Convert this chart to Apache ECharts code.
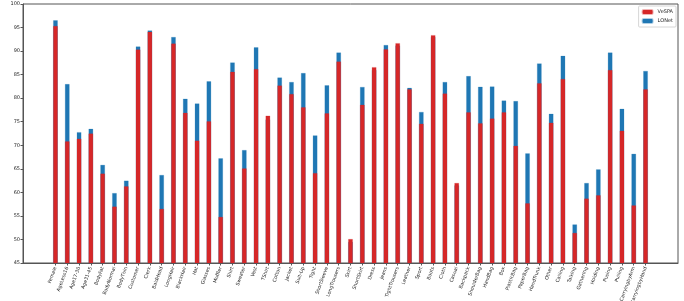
<!DOCTYPE html>
<html>
<head>
<meta charset="utf-8">
<script src="https://cdn.jsdelivr.net/npm/echarts@6/dist/echarts.min.js"></script>
<style>html,body{margin:0;padding:0;background:#fff}#c{width:684px;height:301px}</style>
</head>
<body>
<div id="c"></div>
<script>
const categories = ["Female","AgeLess16","Age17-30","Age31-45","BodyFat","BodyNormal","BodyThin","Customer","Clerk","BaldHead","LongHair","BlackHair","Hat","Glasses","Muffler","Shirt","Sweater","Vest","TShirt","Cotton","Jacket","Suit-Up","Tight","ShortSleeve","LongTrousers","Skirt","ShortSkirt","Dress","Jeans","TightTrousers","Leather","Sport","Boots","Cloth","Casual","Backpack","ShoulderBag","HandBag","Box","PlasticBag","PaperBag","HandTrunk","Other","Calling","Talking","Gathering","Holding","Pusing","Pulling","CarryingbyArm","CarryingbyHand"];
const vespa = [95.35,70.85,71.4,72.5,64.0,57.0,61.3,90.35,94.1,56.5,91.6,76.9,71.0,75.1,54.8,85.6,65.1,86.2,76.3,82.7,80.9,78.1,64.1,76.8,87.8,50.1,78.6,86.6,90.4,91.7,81.9,74.6,93.4,81.0,62.0,77.0,74.7,75.7,77.0,69.9,57.7,83.2,74.8,84.1,51.4,58.7,59.4,86.0,73.1,57.25,81.9];
const lonet = [96.55,83.0,72.8,73.5,65.85,59.86,62.5,91.0,94.4,63.7,93.0,79.9,78.9,83.6,67.25,87.6,69.0,90.8,75.5,84.4,83.45,85.35,72.1,82.75,89.7,49.5,82.4,86.0,91.3,91.2,82.2,77.1,93.0,83.45,61.5,84.7,82.45,82.5,79.5,79.4,68.3,87.4,76.7,89.0,53.2,62.0,64.9,89.7,77.75,68.2,85.8];
const yTicks = [45,50,55,60,65,70,75,80,85,90,95,100];

const idx = categories.map((_, i) => i);
const chart = echarts.init(document.getElementById('c'));
chart.setOption({
  animation: false,
  grid: {left: 23, right: 6, top: 4, bottom: 38, show: true, borderColor: '#555', borderWidth: 1,
    outerBoundsMode: 'none', containLabel: false},
  legend: {
    data: ['VeSPA', 'LONet'], orient: 'vertical', right: 8, top: 6,
    itemWidth: 10, itemHeight: 4, itemGap: 3,
    textStyle: {fontSize: 5, color: '#222', fontFamily: 'DejaVu Sans'},
    borderColor: '#ccc', borderWidth: 0.8, borderRadius: 1, padding: [3, 3, 3, 3], backgroundColor: '#fff'
  },
  xAxis: {
    type: 'value', min: -2.75, max: 52.75,
    splitLine: {show: false},
    axisLine: {show: true, onZero: false, lineStyle: {color: '#555'}},
    axisTick: {show: true, customValues: idx, length: 2.5, lineStyle: {color: '#555'}},
    axisLabel: {customValues: idx, rotate: 70, fontSize: 4.8, color: '#222', margin: 4,
      fontFamily: 'DejaVu Sans', formatter: v => categories[Math.round(v)] || ''}
  },
  yAxis: {
    type: 'value', min: 45, max: 100, interval: 5,
    name: 'Accuracy (%)', nameLocation: 'middle', nameGap: 14,
    nameTextStyle: {fontSize: 5, color: '#222', fontFamily: 'DejaVu Sans'},
    splitLine: {show: false},
    axisLine: {show: true, onZero: false, lineStyle: {color: '#555'}},
    axisTick: {show: true, length: 2.5, lineStyle: {color: '#555'}},
    axisLabel: {fontSize: 5, color: '#222', margin: 3, fontFamily: 'DejaVu Sans',
      customValues: yTicks}
  },
  series: [
    {name: 'LONet', type: 'bar', barWidth: 4.7, barGap: '-100%',
      itemStyle: {color: '#1f77b4', borderColor: 'rgba(31,119,180,0.35)', borderWidth: 0.6},
      data: lonet.map((v, i) => [i, v])},
    {name: 'VeSPA', type: 'bar', barWidth: 4.7, barGap: '-100%',
      itemStyle: {color: '#d62728', borderColor: 'rgba(214,39,40,0.35)', borderWidth: 0.6},
      data: vespa.map((v, i) => [i, v])}
  ]
});
</script>
</body>
</html>
